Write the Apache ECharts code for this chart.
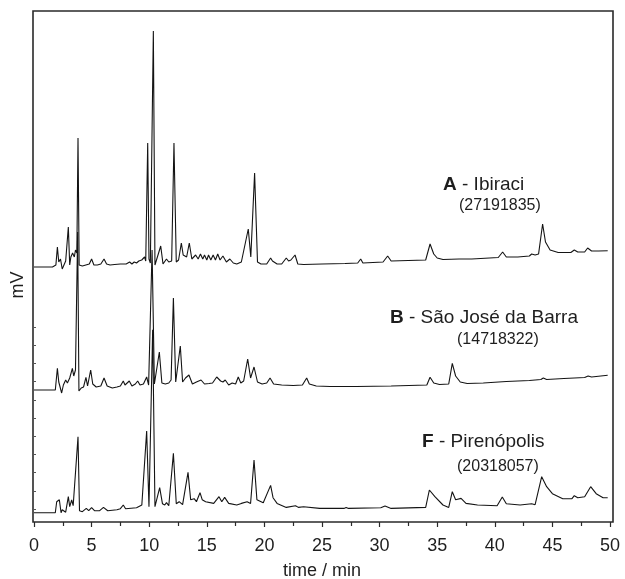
<!DOCTYPE html>
<html>
<head>
<meta charset="utf-8">
<script src="https://cdn.jsdelivr.net/npm/echarts@6/dist/echarts.min.js"></script>
<style>html,body{margin:0;padding:0;background:#fff}#c{width:625px;height:579px}</style>
</head>
<body>
<div id="c"></div>
<script>
// x tick labels (min)
const xTicks = [0, 5, 10, 15, 20, 25, 30, 35, 40, 45, 50];
// trace names and integrated areas
const traceNames = ['A - Ibiraci', 'B - São José da Barra', 'F - Pirenópolis'];
const traceLetters = ['A', 'B', 'F'];
const traceSites = ['Ibiraci', 'São José da Barra', 'Pirenópolis'];
const traceAreas = ['(27191835)', '(14718322)', '(20318057)'];
// vertical offsets of each trace (mV, arbitrary)
const traceOffsets = [255, 132, 9.3];

// [time (min), signal (mV, relative)]
const traceA = [
[0,0],[1.3,0],[1.45,2],[1.6,0],[1.9,2],[2.03,20],[2.15,5],[2.3,8],[2.45,-2],[2.6,-2],[2.75,6],[2.98,40],[3.1,2],[3.2,10],[3.35,14],[3.5,10],[3.6,17],[3.72,14],[3.82,129],[3.92,2],[4.2,1],[4.5,2],
[4.8,3],[5.0,8],[5.2,2],[5.5,2],[5.8,3],[6.08,8],[6.3,3],[6.6,2],[7.0,2.5],[7.5,3],[8.0,3],[8.3,5],[8.5,3],[8.7,5],[8.9,4],[9.1,6],[9.35,7],[9.6,10],[9.7,6],[9.87,124],[9.98,8],[10.1,4],[10.2,5],[10.36,236],[10.5,2],[10.65,0],
[11.0,21],[11.2,3],[11.5,8],[11.7,5],[11.95,6],[12.15,124],[12.35,5],[12.55,7],[12.79,24],[12.95,12],[13.1,14],[13.25,10],[13.48,24],[13.7,8],[14.03,12],[14.25,8],[14.45,13],[14.65,8],[14.8,12],[15.0,7],[15.15,12],[15.35,7],[15.55,12],[15.75,7],[15.95,13],[16.15,7],[16.4,11],[16.7,5],[17.0,8],[17.3,4],[17.6,3],[18.0,5],
[18.6,38],[18.82,10],[19.15,94],[19.4,5],[19.7,3],[20.2,3],[20.54,9],[20.7,6],[20.85,8],[21.1,3],[21.5,3],[21.9,9],[22.1,6],[22.3,7],[22.66,12],[22.9,3],[23.4,2.5],[25,3],[27,3.5],[28.1,4],[28.36,8],[28.55,4],[30.3,5],[30.7,11],[31.0,6],[34.0,7],[34.38,23],[34.7,13],[35.0,9],[35.5,7.5],[36.9,8],[38,8],[40.3,9.5],[40.68,15],[41.0,10],[42,10],[43.0,11],[43.2,13],[43.5,12],[43.8,13],[44.15,43],[44.4,25],[44.8,17],[45.5,14.5],[46.6,14.5],[46.9,17],[47.2,15],[47.8,15],[48.06,19],[48.4,16],[49.0,16],[49.8,16.3]
];
const traceB = [
[0,0],[1.85,0],[2.03,21.7],[2.15,8],[2.25,10],[2.4,-3],[2.55,5],[2.75,10],[2.9,7],[3.1,12],[3.33,21.7],[3.45,14],[3.6,20],[3.79,158],[3.9,-1],[4.1,2],[4.3,3],[4.51,12.7],[4.65,4],[4.92,20],[5.1,6],[5.4,3],[5.8,4],[6.08,12],[6.35,4],[6.8,2],[7.2,3],[7.5,4],[7.75,9],[7.9,5],[8.27,9],[8.5,4],[8.8,6],[9.0,9],[9.2,5],[9.5,6],[9.78,13],[9.95,5],[10.25,140],[10.45,6],[10.6,7],[10.88,38],[11.1,7],[11.4,6],[11.7,7],[11.9,10],[12.1,92],[12.3,8],[12.45,10],[12.7,44],[12.9,8],[13.15,12],[13.45,15],[13.75,6],[14.1,8],[14.5,10],[14.8,6],[15.2,6.5],[15.5,7],[15.86,13],[16.0,12],[16.2,9],[16.4,8],[16.6,10],[16.9,5],[17.2,7],[17.5,6],[17.73,13],[17.95,7],[18.2,9],[18.55,31],[18.8,12],[19.1,23],[19.4,8],[19.8,6],[20.2,7],[20.49,12],[20.8,6],[21.5,5],[22.5,4.5],[23.3,5],[23.67,12],[23.9,6],[24.5,4],[25.7,3.5],[28,3.5],[31,4],[34.1,5],[34.38,12.7],[34.7,7],[35.2,5.5],[36.0,6],[36.31,26.7],[36.6,14],[37.0,8],[37.6,6.5],[39,7],[41,8.5],[43,9.5],[44.0,10.5],[44.21,12],[44.5,10.5],[46,11.5],[47.8,12.5],[48.1,14],[48.4,13],[49.8,14.7]
];
const traceF = [
[0,0],[1.85,0],[1.97,11],[2.1,12],[2.2,13],[2.35,0],[2.45,3],[2.6,5],[2.75,0.5],[2.98,16],[3.1,6],[3.27,12.7],[3.4,7],[3.55,9],[3.82,76],[3.95,2],[4.2,1],[4.54,4.3],[4.75,2],[5.0,5],[5.25,2],[5.7,2],[6.03,5.3],[6.4,2],[7.2,3],[7.5,4],[7.75,7.7],[7.95,4],[8.9,5],[9.36,7.7],[9.5,6],[9.78,81.7],[9.98,6],[10.1,5],[10.3,183],[10.5,6],[10.91,25],[11.15,9],[11.35,7.7],[11.5,10],[11.7,7],[12.1,59.3],[12.35,9],[12.6,11],[12.9,8],[13.37,40.3],[13.6,13],[13.9,14],[14.1,11],[14.41,20],[14.6,13],[14.9,11],[15.6,9.3],[16.06,16],[16.3,11],[16.55,15.3],[16.9,9.3],[17.6,7.7],[18.0,9.3],[18.5,11],[18.8,9.3],[19.1,52.7],[19.35,13],[19.9,10],[20.54,27.3],[20.75,15],[21.1,9.3],[21.9,5.3],[22.7,7],[22.95,5.3],[23.4,6],[24.8,4.3],[26.9,4.3],[27.1,5.3],[27.3,4.3],[30.1,5],[30.47,6.7],[31.0,4.3],[34.0,5.3],[34.32,22.7],[34.8,16],[35.5,7.7],[36.0,5.3],[36.31,21],[36.6,13],[37.07,14.3],[37.5,9.3],[38.5,7.7],[40.2,7],[40.65,15.7],[41.0,9],[42.2,7.7],[43.2,9],[43.5,8],[44.07,36],[44.5,26],[45.0,19],[45.9,14],[46.7,14],[46.9,17],[47.2,15],[47.8,16],[48.32,26],[48.8,19],[49.4,15],[49.8,15]
];
const traces = [traceA, traceB, traceF];

const FONT = 'Arial, "Liberation Sans", Helvetica, sans-serif';
const chart = echarts.init(document.getElementById('c'), null, {renderer: 'canvas'});

const series = traces.map((tr, i) => ({
  type: 'line',
  name: traceNames[i],
  xAxisIndex: 1, yAxisIndex: 1,
  data: tr.map(p => [p[0], p[1] + traceOffsets[i]]),
  showSymbol: false, symbol: 'none', smooth: false,
  lineStyle: {color: '#141414', width: 1.1},
  z: 3
}));

const labelPos = [[443, 186, 459, 207], [390, 319, 457, 341], [422, 443.5, 457, 468]];
const graphics = [];
labelPos.forEach((p, i) => {
  graphics.push({
    type: 'text', left: p[0], top: p[1] - 11, z: 10,
    style: {
      text: '{b|' + traceLetters[i] + '} - ' + traceSites[i],
      font: '19px ' + FONT, fill: '#1e1e1e',
      rich: {b: {fontWeight: 'bold', fontSize: 19, fontFamily: FONT, fill: '#1e1e1e'}}
    }
  });
  graphics.push({
    type: 'text', left: p[2], top: p[3] - 9, z: 10,
    style: {text: traceAreas[i], font: '16px ' + FONT, fill: '#1e1e1e'}
  });
});
graphics.push({
  type: 'text', x: 18, y: 285, rotation: Math.PI / 2, z: 10,
  style: {text: 'mV', font: '18px ' + FONT, fill: '#1e1e1e', align: 'center', verticalAlign: 'middle'}
});

chart.setOption({
  animation: false,
  backgroundColor: '#fff',
  graphic: graphics,
  grid: [
    {left: 33, right: 12, top: 11, bottom: 57, show: true, borderColor: '#2a2a2a', borderWidth: 1.6, backgroundColor: 'transparent', outerBoundsMode: 'none', containLabel: false},
    {left: 34, right: 15, top: 11, bottom: 57, outerBoundsMode: 'none', containLabel: false},
    {left: 33, right: 12, top: 327, bottom: 70, outerBoundsMode: 'none', containLabel: false}
  ],
  xAxis: [
    {gridIndex: 0, type: 'value', min: 0, max: 1, show: false},
    {gridIndex: 1, type: 'value', min: 0, max: 50, interval: 5,
      axisLine: {show: false},
      axisTick: {show: true, inside: false, length: 5, lineStyle: {color: '#2a2a2a', width: 1.2}},
      minorTick: {show: true, splitNumber: 2, length: 4, lineStyle: {color: '#2a2a2a', width: 1.2}},
      splitLine: {show: false},
      axisLabel: {color: '#1e1e1e', fontSize: 18, fontFamily: FONT, margin: 15,
        formatter: v => xTicks.indexOf(v) >= 0 ? String(v) : ''},
      name: 'time / min', nameLocation: 'middle', nameGap: 40,
      nameTextStyle: {color: '#1e1e1e', fontSize: 18, fontFamily: FONT}
    },
    {gridIndex: 2, type: 'value', min: 0, max: 1, show: false}
  ],
  yAxis: [
    {gridIndex: 0, type: 'value', min: 0, max: 1, show: false},
    {gridIndex: 1, type: 'value', min: 0, max: 511, show: false},
    {gridIndex: 2, type: 'value', min: 0, max: 10, interval: 1,
      axisLine: {show: false},
      axisTick: {show: true, inside: true, length: 3, lineStyle: {color: '#555', width: 1}},
      axisLabel: {show: false}, splitLine: {show: false}
    }
  ],
  series: series
});
</script>
</body>
</html>
